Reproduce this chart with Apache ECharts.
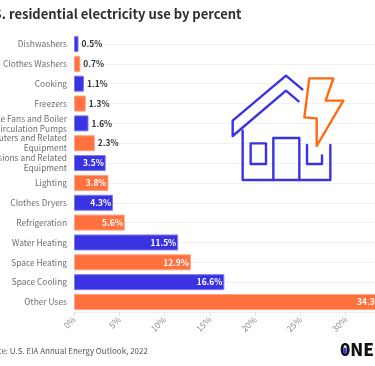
<!DOCTYPE html>
<html><head><meta charset="utf-8">
<script src="https://cdn.jsdelivr.net/npm/echarts@6/dist/echarts.min.js"></script>
<style>html,body{margin:0;padding:0;background:#fff;overflow:hidden}#c{width:375px;height:366px}</style>
</head><body><div id="c"></div>
<script>
const categories = ["Dishwashers","Clothes Washers","Cooking","Freezers","Furnace Fans and Boiler\nCirculation Pumps","Computers and Related\nEquipment","Televisions and Related\nEquipment","Lighting","Clothes Dryers","Refrigeration","Water Heating","Space Heating","Space Cooling","Other Uses"];
const values = [0.5,0.7,1.1,1.3,1.6,2.3,3.5,3.8,4.3,5.6,11.5,12.9,16.6,34.3];
const BLUE="#3a33e2", ORANGE="#ff7240", FONT='"Noto Sans CJK SC",sans-serif';
const poly=(pts,color,closed)=>({type:closed?'polygon':'polyline',silent:true,z:50,
  shape:{points:pts.map(p=>[190+p[0]/3,60+p[1]/3])},
  style:{fill:null,stroke:color,lineWidth:2.4,lineJoin:'round',lineCap:'round'}});
const chart=echarts.init(document.getElementById('c'),null,{renderer:'canvas'});
chart.setOption({
  animation:false,
  backgroundColor:'#fff',
  title:{text:'U.S. residential electricity use by percent',left:-20,top:8,padding:0,
    textStyle:{fontFamily:FONT,fontSize:13,fontWeight:700,color:'#2e2e2e'}},
  grid:{left:74,right:-16,top:44,bottom:64,outerBoundsMode:'none'},
  xAxis:{type:'value',min:0,max:35,interval:5,offset:10,
    axisLine:{show:true,lineStyle:{color:'#eeeeee'}},
    axisTick:{show:true,length:4,lineStyle:{color:'#e4e4e4'}},
    splitLine:{show:false},
    axisLabel:{rotate:45,margin:6,color:'#8a8a8a',fontFamily:FONT,fontSize:8.5,formatter:'{value}%',hideOverlap:false}},
  yAxis:{type:'category',inverse:true,boundaryGap:false,data:categories,
    axisLine:{show:false},axisTick:{show:false},
    splitLine:{show:true,lineStyle:{color:'#f1f1f1'}},
    axisLabel:{margin:7,color:'#6e6e6e',fontFamily:FONT,fontSize:8.4,lineHeight:10,interval:0,hideOverlap:false}},
  series:[{type:'bar',barWidth:16,clip:false,
    data:values.map((v,i)=>({value:v,
      itemStyle:{color:i%2?ORANGE:BLUE,borderColor:i%2?'#ffa27e':'#7f7bf0',borderWidth:1},
      label:v>=3.5?{show:true,position:'insideRight',distance:2,color:'#fff',textBorderColor:i%2?ORANGE:BLUE,textBorderWidth:2}
                  :{show:true,position:'right',distance:3,color:'#333'}})),
    label:{formatter:p=>p.value.toFixed(1)+'%',fontFamily:FONT,fontSize:8.4,fontWeight:700}}],
  graphic:[
    poly([[337,88],[288,47],[128,182],[128,228],[288,92],[326,124]],BLUE),
    poly([[158,212],[158,360],[421,360],[421,255]],BLUE),
    poly([[182,250],[228,250],[228,312],[182,312]],BLUE,true),
    poly([[250,360],[250,234],[328,234],[328,360]],BLUE),
    poly([[351,255],[351,312],[396,312],[396,286]],BLUE),
    poly([[358,55],[430,55],[407,122],[460,122],[380,258],[380,175],[343,172]],'#ff6a13',true),
    {type:'text',silent:true,z:50,style:{text:'Source: U.S. EIA Annual Energy Outlook, 2022',x:-20,y:347,fill:'#555',font:'8px "Noto Sans CJK SC",sans-serif'}},
    {type:'text',silent:true,z:50,style:{text:'0NE',x:340,y:341,fill:'#111',font:'900 17px "Noto Sans CJK SC",sans-serif'}},
    {type:'ellipse',silent:true,z:51,shape:{cx:345,cy:351,rx:1.6,ry:3.6},style:{fill:BLUE}}
  ]
});
</script></body></html>
